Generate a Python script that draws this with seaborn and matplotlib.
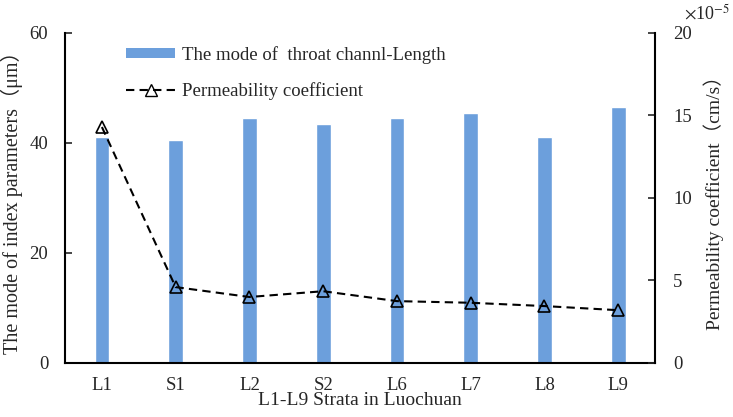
import numpy as np
import matplotlib
matplotlib.use("Agg")
import matplotlib.pyplot as plt
import seaborn as sns
from matplotlib.lines import Line2D
from matplotlib.patches import Patch

# data
strata = ["L1", "S1", "L2", "S2", "L6", "L7", "L8", "L9"]
throat_mode = [41.0, 40.5, 44.5, 43.5, 44.5, 45.5, 41.0, 46.5]
permeability = [14.3, 4.6, 4.0, 4.35, 3.75, 3.65, 3.45, 3.2]  # x1e-5 cm/s

bar_color = "#6C9FDC"

sns.set_style("white")
plt.rcParams["font.family"] = ["Liberation Serif", "Noto Sans CJK SC", "DejaVu Sans"]
plt.rcParams["mathtext.fontset"] = "stix"

fig = plt.figure(figsize=(7.33, 4.17), dpi=100)
ax = fig.add_axes([0.0887, 0.1295, 0.805, 0.7914])

sns.barplot(x=strata, y=throat_mode, color=bar_color, width=0.2,
            saturation=1, ax=ax)
ax.set_ylim(0, 60)
ax.set_yticks([0, 20, 40, 60])
ax.set_xlim(-0.5, len(strata) - 0.5)
ax.set_xlabel("L1-L9 Strata in Luochuan", fontsize=14, labelpad=-1)
ax.set_ylabel("The mode of index parameters（μm）", fontsize=14.5, labelpad=5)

ax2 = ax.twinx()
sns.lineplot(x=np.arange(len(strata)), y=permeability, ax=ax2, color="black",
             linestyle=(0, (4, 2.5)), linewidth=1.5, marker="^", markersize=8.5,
             markerfacecolor="none", markeredgecolor="black", markeredgewidth=1.2)
ax2.set_ylim(0, 20)
ax2.set_yticks([0, 5, 10, 15, 20])
ax2.set_ylabel("Permeability coefficient（cm/s）", fontsize=14, labelpad=8)

# axis styling, ticks inward like the original
for a in (ax, ax2):
    for side in a.spines:
        a.spines[side].set_visible(False)
ax.spines["left"].set_visible(True)
ax.spines["bottom"].set_visible(True)
ax2.spines["right"].set_visible(True)
for s in ("left", "bottom"):
    ax.spines[s].set_color("black")
    ax.spines[s].set_linewidth(1.5)
ax2.spines["right"].set_color("black")
ax2.spines["right"].set_linewidth(1.5)

ax.tick_params(axis="y", direction="in", length=5, width=1.2, labelsize=13.5, pad=12)
ax2.tick_params(axis="y", direction="in", length=5, width=1.2, labelsize=13.5, pad=13)
ax.tick_params(axis="x", which="major", length=0, labelsize=13.5, pad=10)
ax.set_xticks(np.arange(len(strata)) + 0.5, minor=True)
ax.tick_params(axis="x", which="minor", direction="in", length=5, width=1.2)

fig.text(0.965, 0.968, r"$\times$10$^{-5}$", fontsize=13, ha="center", va="center")

handles = [
    Patch(facecolor=bar_color, edgecolor="none"),
    Line2D([0], [0], color="black", linestyle=(0, (4, 2.5)), linewidth=1.5,
           marker="^", markersize=8.5, markerfacecolor="none", markeredgecolor="black"),
]
leg = ax.legend(handles, ["The mode of  throat channl-Length", "Permeability coefficient"],
                loc="upper left", bbox_to_anchor=(0.075, 1.012), frameon=False,
                fontsize=13.5, handlelength=2.6, handleheight=0.4,
                handletextpad=0.4, labelspacing=0.98)

fig.savefig("out.png", dpi=100)
